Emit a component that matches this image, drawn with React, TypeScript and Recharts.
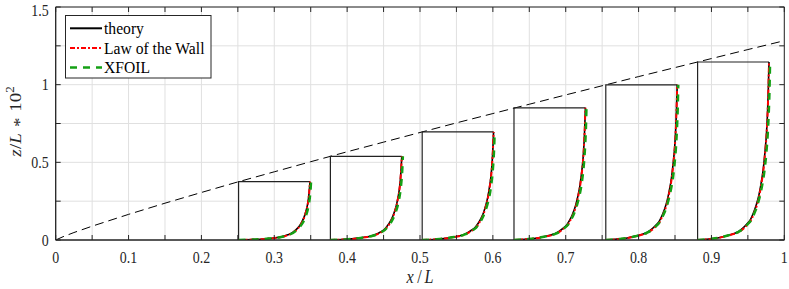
import React from 'react';
import { LineChart, Line, XAxis, YAxis, CartesianGrid, ReferenceArea } from 'recharts';

// ---- axis ticks ----
const xTicks = [0, 0.05, 0.1, 0.15, 0.2, 0.25, 0.3, 0.35, 0.4, 0.45, 0.5, 0.55, 0.6, 0.65, 0.7, 0.75, 0.8, 0.85, 0.9, 0.95, 1];
const yTicks = [0, 0.25, 0.5, 0.75, 1, 1.25, 1.5];

// ---- boundary-layer edge (dashed) ----
const edgeX = [0, 0.01, 0.025, 0.05, 0.1, 0.15, 0.2, 0.25, 0.3, 0.35, 0.4, 0.45, 0.5, 0.55, 0.6, 0.65, 0.7, 0.75, 0.8, 0.85, 0.9, 0.95, 1];
const edgeZ = [0, 0.021, 0.048, 0.089, 0.165, 0.237, 0.306, 0.374, 0.439, 0.504, 0.568, 0.63, 0.692, 0.754, 0.814, 0.874, 0.934, 0.993, 1.052, 1.11, 1.168, 1.226, 1.283];

// ---- profile stations ----
const stationX = [0.251, 0.377, 0.503, 0.629, 0.755, 0.881];
const stationDelta = [0.376, 0.539, 0.696, 0.851, 0.999, 1.146];
const profileWidth = 0.098;

// ---- normalised velocity profiles (z/delta vs u/U) ----
const shapeZ = [0, 0.003, 0.007, 0.013, 0.025, 0.035, 0.047, 0.065, 0.09, 0.115, 0.15, 0.195, 0.255, 0.32, 0.4, 0.5, 0.6, 0.72, 0.84, 1];
const theoryU = [0, 0.1, 0.2, 0.3, 0.42, 0.5, 0.57, 0.63, 0.69, 0.74, 0.78, 0.82, 0.86, 0.89, 0.92, 0.945, 0.965, 0.98, 0.99, 1];
const lawU = [0, 0.1, 0.21, 0.31, 0.43, 0.515, 0.585, 0.645, 0.705, 0.753, 0.79, 0.83, 0.867, 0.895, 0.924, 0.948, 0.967, 0.981, 0.991, 1];
const xfoilU = [0, 0.1, 0.2, 0.3, 0.42, 0.51, 0.58, 0.645, 0.705, 0.756, 0.795, 0.837, 0.877, 0.91, 0.94, 0.965, 0.983, 0.997, 1.007, 1.015];

const legendNames = ['theory', 'Law of the Wall', 'XFOIL'];

const AX = '#262626';
const FONT = '"Liberation Serif", "Times New Roman", serif';

// plot frame geometry (pixels)
const PLOT_TOP = 7;
const PLOT_LEFT = 55.7;
const PLOT_RIGHT = 784.3;
const PLOT_BOTTOM = 240;
const TICK_LEN = 5;
const X_MARGIN = 12;
const Y_MARGIN = 7;
const TICK_FS = 17;
const SQUEEZE = 0.82;

const edgeData = edgeX.map((x, i) => ({ x, z: edgeZ[i] }));
const rectData = stationX.map((x0, i) => [
  { x: x0, z: 0 },
  { x: x0, z: stationDelta[i] },
  { x: x0 + profileWidth, z: stationDelta[i] },
]);
const buildProfile = (u: number[]) =>
  stationX.map((x0, i) => shapeZ.map((zf, k) => ({ x: x0 + profileWidth * u[k], z: stationDelta[i] * zf })));
const theoryData = buildProfile(theoryU);
const lawData = buildProfile(lawU);
const xfoilData = buildProfile(xfoilU);

const fmtX = (v: number) => (Math.round(v * 20) % 2 === 0 ? String(Number(v.toFixed(2))) : '');
const fmtY = (v: number) => (Math.round(v * 4) % 2 === 0 ? String(Number(v.toFixed(2))) : '');

const XTick = (props: any) => {
  const { x, payload } = props;
  const label = fmtX(payload.value);
  const ty = PLOT_BOTTOM + X_MARGIN + 11;
  return (
    <g>
      <line x1={x} x2={x} y1={PLOT_BOTTOM} y2={PLOT_BOTTOM - TICK_LEN} stroke={AX} strokeWidth={1} />
      <line x1={x} x2={x} y1={PLOT_TOP} y2={PLOT_TOP + TICK_LEN} stroke={AX} strokeWidth={1} />
      {label !== '' && (
        <text
          x={0}
          y={0}
          transform={`translate(${x} ${ty}) scale(${SQUEEZE} 1)`}
          textAnchor="middle"
          fontFamily={FONT}
          fontSize={TICK_FS}
          fill={AX}
        >
          {label}
        </text>
      )}
    </g>
  );
};

const YTick = (props: any) => {
  const { y, payload } = props;
  const label = fmtY(payload.value);
  const ty = Math.max(y + 5.8, 15.5);
  return (
    <g>
      <line x1={PLOT_LEFT} x2={PLOT_LEFT + TICK_LEN} y1={y} y2={y} stroke={AX} strokeWidth={1} />
      <line x1={PLOT_RIGHT} x2={PLOT_RIGHT - TICK_LEN} y1={y} y2={y} stroke={AX} strokeWidth={1} />
      {label !== '' && (
        <text
          x={0}
          y={0}
          transform={`translate(${PLOT_LEFT - Y_MARGIN} ${ty}) scale(${SQUEEZE} 1)`}
          textAnchor="end"
          fontFamily={FONT}
          fontSize={TICK_FS}
          fill={AX}
        >
          {label}
        </text>
      )}
    </g>
  );
};

const YLabel = (props: any) => {
  const vb = props.viewBox || { x: 0, y: 7, width: 55, height: 233 };
  const cy = vb.y + vb.height / 2 - 2;
  const cx = 21;
  return (
    <text
      x={0}
      y={0}
      transform={`translate(${cx} ${cy}) rotate(-90) scale(1 0.9)`}
      textAnchor="middle"
      fontFamily={FONT}
      fontSize={19}
      fill={AX}
    >
      <tspan fontStyle="italic">z</tspan>
      <tspan dx={0.5}>/</tspan>
      <tspan fontStyle="italic">L</tspan>
      <tspan dx={6} dy={4}>*</tspan>
      <tspan dx={6} dy={-4}>10</tspan>
      <tspan fontSize={13} dy={-8}>2</tspan>
    </text>
  );
};

const XLabel = (props: any) => {
  const vb = props.viewBox || { x: 55, y: 240, width: 729, height: 49 };
  const cx = vb.x + vb.width / 2;
  return (
    <text
      x={0}
      y={0}
      transform={`translate(${cx} 283) scale(0.9 1)`}
      textAnchor="middle"
      fontFamily={FONT}
      fontSize={18}
      fill={AX}
    >
      <tspan fontStyle="italic">x</tspan>
      <tspan dx={4}>/</tspan>
      <tspan fontStyle="italic" dx={3}>L</tspan>
    </text>
  );
};

const Legend = () => {
  const rows = [13.3, 33, 52.6];
  return (
    <svg width={147} height={64} style={{ position: 'absolute', left: 65, top: 14.5 }}>
      <rect x={0.5} y={0.5} width={145.5} height={62.5} fill="#ffffff" stroke={AX} strokeWidth={1} />
      <line x1={5} x2={37} y1={rows[0]} y2={rows[0]} stroke="#000000" strokeWidth={2} />
      <line x1={5} x2={37} y1={rows[1]} y2={rows[1]} stroke="#ff0000" strokeWidth={2} strokeDasharray="5 2 2 2" />
      <line x1={5} x2={37} y1={rows[2]} y2={rows[2]} stroke="#14a014" strokeWidth={2.5} strokeDasharray="7 6" />
      {legendNames.map((n, i) => (
        <text
          key={n}
          x={0}
          y={0}
          transform={`translate(39 ${rows[i] + 5.5}) scale(0.92 1)`}
          fontFamily={FONT}
          fontSize={17}
          fill="#000"
        >
          {n}
        </text>
      ))}
    </svg>
  );
};

export default function App() {
  return (
    <div style={{ position: 'relative', width: 789, height: 289 }}>
      <style>{'body{margin:0;}'}</style>
      <LineChart width={789} height={289} margin={{ top: PLOT_TOP, right: 789 - PLOT_RIGHT, left: 0, bottom: 0 }}>
        <CartesianGrid xAxisId="x" yAxisId="y" stroke="#e0e0e0" strokeWidth={1} />
        <XAxis
          xAxisId="x"
          dataKey="x"
          type="number"
          domain={[0, 1]}
          allowDataOverflow
          ticks={xTicks}
          interval={0}
          tickLine={false}
          tickSize={0}
          tickMargin={X_MARGIN}
          height={289 - PLOT_BOTTOM}
          axisLine={{ stroke: AX, strokeWidth: 1 }}
          tick={<XTick />}
          label={<XLabel />}
        />
        <YAxis
          yAxisId="y"
          type="number"
          domain={[0, 1.5]}
          allowDataOverflow
          ticks={yTicks}
          interval={0}
          tickLine={false}
          tickSize={0}
          tickMargin={Y_MARGIN}
          width={PLOT_LEFT}
          axisLine={{ stroke: AX, strokeWidth: 1 }}
          tick={<YTick />}
          label={<YLabel />}
        />
        <ReferenceArea
          xAxisId="x"
          yAxisId="y"
          x1={0}
          x2={1}
          y1={0}
          y2={1.5}
          fill="none"
          fillOpacity={0}
          stroke={AX}
          strokeWidth={1}
          ifOverflow="visible"
        />

        <Line
          xAxisId="x"
          yAxisId="y"
          data={edgeData}
          dataKey="z"
          type="linear"
          stroke="#000"
          strokeWidth={1}
          strokeDasharray="9 5"
          dot={false}
          activeDot={false}
          isAnimationActive={false}
        />
        {rectData.map((d, i) => (
          <Line
            key={`r${i}`}
            xAxisId="x"
            yAxisId="y"
            data={d}
            dataKey="z"
            type="linear"
            stroke="#222"
            strokeWidth={1.2}
            dot={false}
            activeDot={false}
            isAnimationActive={false}
          />
        ))}
        {theoryData.map((d, i) => (
          <Line
            key={`t${i}`}
            xAxisId="x"
            yAxisId="y"
            data={d}
            dataKey="z"
            type="monotoneX"
            stroke="#000"
            strokeWidth={1.6}
            dot={false}
            activeDot={false}
            isAnimationActive={false}
          />
        ))}
        {lawData.map((d, i) => (
          <Line
            key={`l${i}`}
            xAxisId="x"
            yAxisId="y"
            data={d}
            dataKey="z"
            type="monotoneX"
            stroke="#ff0000"
            strokeWidth={2}
            strokeDasharray="5 2 2 2"
            dot={false}
            activeDot={false}
            isAnimationActive={false}
          />
        ))}
        {xfoilData.map((d, i) => (
          <Line
            key={`f${i}`}
            xAxisId="x"
            yAxisId="y"
            data={d}
            dataKey="z"
            type="monotoneX"
            stroke="#14a014"
            strokeWidth={2.5}
            strokeDasharray="7 6"
            dot={false}
            activeDot={false}
            isAnimationActive={false}
          />
        ))}
      </LineChart>
      <Legend />
    </div>
  );
}
